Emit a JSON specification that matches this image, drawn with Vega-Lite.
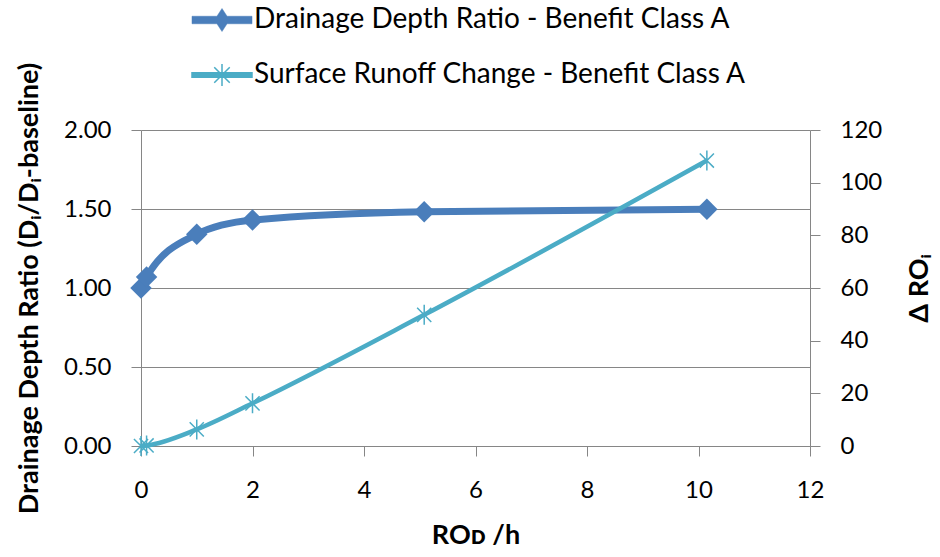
{
  "$schema": "https://vega.github.io/schema/vega-lite/v6.json",
  "width": 669,
  "height": 316,
  "autosize": {"type": "none"},
  "padding": {"left": 141, "top": 130, "right": 130, "bottom": 111},
  "background": "white",
  "config": {
    "view": {"stroke": null},
    "font": "Lato",
    "axis": {"labelFont": "Lato", "titleFont": "Lato", "labelColor": "black", "titleColor": "black", "domainColor": "#868686", "tickColor": "#868686", "gridColor": "#868686", "gridOpacity": 1, "labelFontSize": 24, "titleFontSize": 27, "titleFontWeight": "bold", "tickSize": 10, "labelPadding": 20}
  },
  "data": {
    "values": [
      {"x": 0, "value": 1.0, "series": "Drainage Depth Ratio - Benefit Class A"},
      {"x": 0.1, "value": 1.07, "series": "Drainage Depth Ratio - Benefit Class A"},
      {"x": 1.0, "value": 1.34, "series": "Drainage Depth Ratio - Benefit Class A"},
      {"x": 2.0, "value": 1.43, "series": "Drainage Depth Ratio - Benefit Class A"},
      {"x": 5.08, "value": 1.483, "series": "Drainage Depth Ratio - Benefit Class A"},
      {"x": 10.15, "value": 1.498, "series": "Drainage Depth Ratio - Benefit Class A"},
      {"x": 0, "value": 0, "series": "Surface Runoff Change - Benefit Class A"},
      {"x": 0.1, "value": 0.2, "series": "Surface Runoff Change - Benefit Class A"},
      {"x": 1.0, "value": 6.3, "series": "Surface Runoff Change - Benefit Class A"},
      {"x": 2.0, "value": 16.2, "series": "Surface Runoff Change - Benefit Class A"},
      {"x": 5.08, "value": 49.8, "series": "Surface Runoff Change - Benefit Class A"},
      {"x": 10.15, "value": 108.4, "series": "Surface Runoff Change - Benefit Class A"}
    ]
  },
  "encoding": {
    "x": {
      "field": "x", "type": "quantitative",
      "scale": {"domain": [0, 12], "nice": false, "zero": false},
      "axis": {"values": [0, 2, 4, 6, 8, 10, 12], "grid": false, "title": "ROᴅ /h", "labelPadding": 22, "titlePadding": 20, "labelFlush": false}
    }
  },
  "layer": [
    {
      "transform": [{"filter": "datum.series == 'Drainage Depth Ratio - Benefit Class A'"}],
      "encoding": {
        "y": {
          "field": "value", "type": "quantitative",
          "scale": {"domain": [0, 2], "nice": false},
          "axis": {"orient": "left", "values": [0, 0.5, 1, 1.5, 2], "format": ".2f", "grid": true, "title": "Drainage Depth Ratio (Dᵢ/Dᵢ-baseline)", "titlePadding": 20, "labelFlush": false}
        }
      },
      "layer": [
        {
          "mark": {"type": "line", "interpolate": "monotone", "strokeWidth": 7},
          "encoding": {
            "color": {
              "field": "series", "type": "nominal",
              "scale": {"domain": ["Drainage Depth Ratio - Benefit Class A", "Surface Runoff Change - Benefit Class A"], "range": ["#4A7EBB", "#4BACC6"]},
              "legend": {
                "orient": "none", "legendX": 67, "legendY": -124, "direction": "vertical", "title": null,
                "padding": 0, "labelFont": "Lato", "labelFontSize": 28, "labelColor": "black", "labelLimit": 0,
                "symbolSize": 2500, "labelOffset": 18, "rowPadding": 27,
                "encode": {
                  "symbols": {
                    "update": {
                      "shape": {"signal": "datum.value == 'Drainage Depth Ratio - Benefit Class A' ? 'M-1.2,-0.15L-0.202,-0.15L0,-0.46L0.202,-0.15L1.2,-0.15L1.2,0.15L0.202,0.15L0,0.46L-0.202,0.15L-1.2,0.15Z' : 'M-1.2,-0.088L1.2,-0.088L1.2,0.088L-1.2,0.088ZM0,-0.44L0,0.44M-0.31,-0.31L0.31,0.31M-0.31,0.31L0.31,-0.31'"},
                      "fill": {"signal": "datum.value == 'Drainage Depth Ratio - Benefit Class A' ? '#4A7EBB' : '#4BACC6'"},
                      "stroke": {"signal": "datum.value == 'Drainage Depth Ratio - Benefit Class A' ? '#4A7EBB' : '#4BACC6'"},
                      "strokeWidth": {"signal": "datum.value == 'Drainage Depth Ratio - Benefit Class A' ? 0.5 : 1.5"},
                      "fillOpacity": {"value": 1},
                      "opacity": {"value": 1}
                    }
                  }
                }
              }
            }
          }
        },
        {
          "mark": {"type": "point", "shape": "diamond", "size": 460, "filled": true, "opacity": 1, "color": "#4A7EBB"}
        }
      ]
    },
    {
      "transform": [{"filter": "datum.series == 'Surface Runoff Change - Benefit Class A'"}],
      "encoding": {
        "y": {
          "field": "value", "type": "quantitative",
          "scale": {"domain": [0, 120], "nice": false},
          "axis": {"orient": "right", "values": [0, 20, 40, 60, 80, 100, 120], "grid": false, "title": "Δ ROᵢ", "titleAngle": 270, "titlePadding": 52, "labelFlush": false}
        }
      },
      "layer": [
        {
          "mark": {"type": "line", "interpolate": "monotone", "strokeWidth": 4.5},
          "encoding": {
            "color": {"field": "series", "type": "nominal"}
          }
        },
        {
          "mark": {"type": "point", "shape": "M0,-1L0,1M-0.707,-0.707L0.707,0.707M-0.707,0.707L0.707,-0.707", "size": 400, "filled": false, "opacity": 1, "strokeWidth": 1.5, "color": "#4BACC6"}
        }
      ]
    }
  ],
  "resolve": {"scale": {"y": "independent"}}
}
